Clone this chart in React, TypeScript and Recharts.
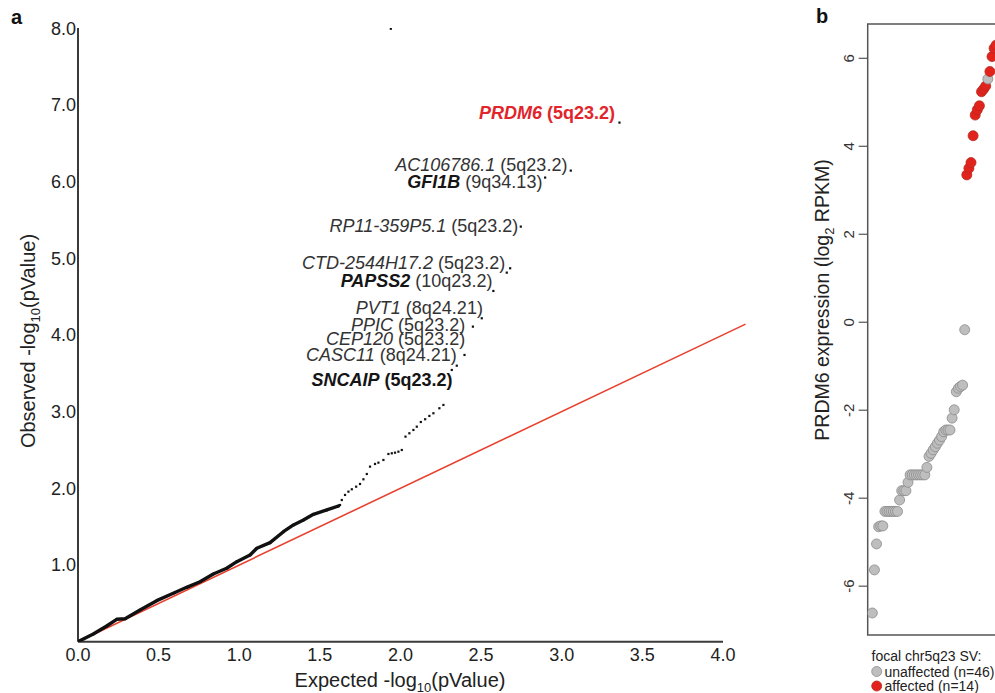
import React from 'react';
import { ScatterChart, Scatter, XAxis, YAxis, ReferenceLine, ReferenceArea } from 'recharts';

const FONT = '"Liberation Sans", Arial, Helvetica, sans-serif';

// panel a: QQ plot, dense body of the curve
const bodyExpected = [0, 0.095, 0.178, 0.24, 0.292, 0.385, 0.488, 0.591, 0.674, 0.757, 0.839, 0.922, 0.985, 1.067, 1.109, 1.191, 1.274, 1.336, 1.398, 1.46, 1.543, 1.615];
const bodyObserved = [0, 0.1, 0.205, 0.292, 0.3, 0.413, 0.535, 0.631, 0.709, 0.782, 0.883, 0.957, 1.043, 1.13, 1.218, 1.291, 1.434, 1.522, 1.587, 1.661, 1.717, 1.769];

// panel a: sparse tail points
const tailExpected = [1.625, 1.636, 1.656, 1.677, 1.698, 1.725, 1.749, 1.77, 1.791, 1.811, 1.842, 1.863, 1.894, 1.925, 1.946, 1.966, 1.987, 2.008, 2.031, 2.055, 2.08, 2.101, 2.126, 2.153, 2.179, 2.204, 2.241, 2.266, 2.318, 2.349, 2.397, 2.449, 2.504, 2.576, 2.659, 2.68, 2.746, 2.897, 3.056, 3.358, 1.94];
const tailObserved = [1.782, 1.847, 1.913, 1.956, 1.987, 2.021, 2.056, 2.117, 2.186, 2.282, 2.317, 2.334, 2.369, 2.447, 2.456, 2.464, 2.477, 2.499, 2.673, 2.717, 2.76, 2.803, 2.864, 2.9, 2.943, 2.978, 3.043, 3.086, 3.542, 3.598, 3.738, 4.107, 4.216, 4.572, 4.811, 4.868, 5.411, 6.05, 6.141, 6.767, 7.99];

// gene annotations (right end of text, in plot units)
const geneNames = ['PRDM6', 'AC106786.1', 'GFI1B', 'RP11-359P5.1', 'CTD-2544H17.2', 'PAPSS2', 'PVT1', 'PPIC', 'CEP120', 'CASC11', 'SNCAIP'];
const geneBands = ['5q23.2', '5q23.2', '9q34.13', '5q23.2', '5q23.2', '10q23.2', '8q24.21', '5q23.2', '5q23.2', '8q24.21', '5q23.2'];
const geneLabelX = [3.331, 3.035, 2.88, 2.731, 2.649, 2.57, 2.511, 2.401, 2.401, 2.349, 2.322];
const geneLabelY = [6.897, 6.215, 5.997, 5.424, 4.941, 4.703, 4.355, 4.129, 3.956, 3.738, 3.412];
const boldGenes = ['PRDM6', 'GFI1B', 'PAPSS2', 'SNCAIP'];
const boldBands = ['PRDM6', 'SNCAIP'];

const xTicksA = [0, 0.5, 1, 1.5, 2, 2.5, 3, 3.5, 4];
const yTicksA = [1, 2, 3, 4, 5, 6, 7, 8];

// panel b: PRDM6 expression per sample
const unaffectedExpr = [-6.61, -5.63, -5.04, -4.65, -4.63, -4.63, -4.3, -4.3, -4.3, -4.3, -4.3, -4.3, -4.3, -4.04, -3.83, -3.83, -3.83, -3.64, -3.47, -3.47, -3.47, -3.47, -3.47, -3.47, -3.47, -3.47, -3.3, -3.05, -2.98, -2.9, -2.83, -2.75, -2.68, -2.6, -2.49, -2.45, -2.45, -2.45, -2.18, -1.99, -1.58, -1.5, -1.46, -1.43, -0.17, 5.53];
const affectedExpr = [3.35, 3.5, 3.63, 4.24, 4.71, 4.83, 4.92, 5.24, 5.3, 5.37, 5.7, 6.04, 6.23, 6.3];
const yTicksB = [-6, -4, -2, 0, 2, 4, 6];

const bodyData = bodyExpected.map((x, i) => ({ x, y: bodyObserved[i] }));
const tailData = tailExpected.map((x, i) => ({ x, y: tailObserved[i] }));
const labelData = geneNames.map((gene, i) => ({ x: geneLabelX[i], y: geneLabelY[i], gene, band: geneBands[i] }));

const samples = [
  ...unaffectedExpr.map((expr) => ({ expr, affected: false })),
  ...affectedExpr.map((expr) => ({ expr, affected: true })),
]
  .sort((a, b) => a.expr - b.expr)
  .map((s, i) => ({ ...s, rank: i + 1 }));

const XTickA = (props: any) => {
  const { x, y, payload } = props;
  return (
    <text x={x} y={y + 19} textAnchor="middle" fontSize={18} fontFamily={FONT} fill="#222">
      {Number(payload.value).toFixed(1)}
    </text>
  );
};

const YTickA = (props: any) => {
  const { x, y, payload } = props;
  return (
    <text x={x - 2} y={y + 6.5} textAnchor="end" fontSize={18} fontFamily={FONT} fill="#222">
      {Number(payload.value).toFixed(1)}
    </text>
  );
};

const YTickB = (props: any) => {
  const { x, y, payload } = props;
  const tx = x - 5;
  return (
    <text x={tx} y={y} transform={`rotate(-90 ${tx} ${y})`} textAnchor="middle" fontSize={15} fontFamily={FONT} fill="#333">
      {payload.value}
    </text>
  );
};

const GeneLabel = (props: any) => {
  const { cx, cy } = props;
  const p = props.payload || props;
  const red = p.gene === 'PRDM6';
  const nameBold = boldGenes.includes(p.gene);
  const bandBold = boldBands.includes(p.gene);
  return (
    <text x={cx} y={cy + 6.5} textAnchor="end" fontSize={18} fontFamily={FONT} fill={red ? '#e1252b' : '#333'}>
      <tspan fontStyle="italic" fontWeight={nameBold ? 700 : 400} fill={red ? '#e1252b' : nameBold ? '#151515' : '#333'}>
        {p.gene}
      </tspan>
      <tspan fontWeight={bandBold ? 700 : 400} fill={red ? '#e1252b' : bandBold ? '#151515' : '#333'}>
        {'\u00a0(' + p.band + ')'}
      </tspan>
    </text>
  );
};

const TailDot = (props: any) => (
  <rect x={props.cx - 1.1} y={props.cy - 1.1} width={2.2} height={2.2} fill="#111" />
);

const SampleDot = (props: any) => {
  const p = props.payload || props;
  return (
    <circle
      cx={props.cx}
      cy={props.cy}
      r={5}
      fill={p.affected ? '#e2231c' : '#bebebe'}
      stroke={p.affected ? '#b52a22' : '#8c8c8c'}
      strokeWidth={0.8}
    />
  );
};

function QQPanel() {
  return (
    <ScatterChart width={760} height={693} margin={{ top: 28, right: 37, bottom: 11.3, left: 18 }}>
      <XAxis
        type="number"
        dataKey="x"
        domain={[0, 4]}
        ticks={xTicksA}
        interval={0}
        allowDataOverflow
        height={40}
        tickSize={0}
        tickMargin={0}
        tickLine={false}
        axisLine={{ stroke: '#3a3a3a', strokeWidth: 2 }}
        tick={<XTickA />}
      />
      <YAxis
        type="number"
        dataKey="y"
        domain={[0, 8]}
        ticks={yTicksA}
        interval={0}
        allowDataOverflow
        width={60}
        tickSize={0}
        tickMargin={0}
        tickLine={false}
        axisLine={{ stroke: '#3a3a3a', strokeWidth: 2 }}
        tick={<YTickA />}
      />
      <ReferenceLine
        segment={[{ x: 0, y: 0 }, { x: 4.14, y: 4.14 }]}
        ifOverflow="visible"
        stroke="#e8412f"
        strokeWidth={1.6}
      />
      <Scatter
        data={bodyData}
        isAnimationActive={false}
        line={{ stroke: '#111', strokeWidth: 3.4, strokeLinejoin: 'round', strokeLinecap: 'round' }}
        lineType="joint"
        shape={(p: any) => <circle cx={p.cx} cy={p.cy} r={1.5} fill="#111" />}
      />
      <Scatter data={tailData} isAnimationActive={false} shape={<TailDot />} />
      <Scatter data={labelData} isAnimationActive={false} shape={<GeneLabel />} />
    </ScatterChart>
  );
}

function ExpressionPanel() {
  return (
    <ScatterChart width={220} height={693} margin={{ top: 24, right: 13.3, bottom: 58, left: 27.7 }}>
      <XAxis type="number" dataKey="rank" domain={[-1.2, 65]} allowDataOverflow hide />
      <YAxis
        type="number"
        dataKey="expr"
        domain={[-7.11, 6.78]}
        ticks={yTicksB}
        interval={0}
        allowDataOverflow
        width={40}
        tickSize={9}
        tickMargin={0}
        axisLine={false}
        tickLine={{ stroke: '#555', strokeWidth: 1.2 }}
        tick={<YTickB />}
      />
      <ReferenceArea
        x1={-1.2}
        x2={65}
        y1={-7.11}
        y2={6.78}
        fill="none"
        fillOpacity={0}
        stroke="#555"
        strokeWidth={1.5}
        ifOverflow="visible"
      />
      <Scatter data={samples} isAnimationActive={false} shape={<SampleDot />} />
    </ScatterChart>
  );
}

export default function App() {
  return (
    <div style={{ position: 'absolute', left: 0, top: 0, width: 995, height: 693, overflow: 'hidden', background: '#fff' }}>
      <div style={{ position: 'absolute', left: 0, top: 0 }}>
        <QQPanel />
      </div>
      <div style={{ position: 'absolute', left: 800, top: 0 }}>
        <ExpressionPanel />
      </div>
      <svg width={995} height={693} style={{ position: 'absolute', left: 0, top: 0, pointerEvents: 'none' }} fontFamily={FONT}>
        <text x={11} y={23.5} fontSize={20} fontWeight={700} fill="#111">a</text>
        <text x={816} y={23} fontSize={20} fontWeight={700} fill="#111">b</text>

        <text x={400} y={686.5} textAnchor="middle" fontSize={20} fill="#222">
          Expected -log
          <tspan fontSize={13} dy={5}>10</tspan>
          <tspan dy={-5}>(pValue)</tspan>
        </text>
        <text x={35} y={341} transform="rotate(-90 35 341)" textAnchor="middle" fontSize={20} fill="#222">
          Observed -log
          <tspan fontSize={13} dy={5}>10</tspan>
          <tspan dy={-5}>(pValue)</tspan>
        </text>

        <text x={828.5} y={300} transform="rotate(-90 828.5 300)" textAnchor="middle" fontSize={19.5} fill="#222">
          PRDM6 expression (log
          <tspan fontSize={13} dy={5}>2</tspan>
          <tspan dy={-5}>{'\u00a0RPKM)'}</tspan>
        </text>

        <text x={871.5} y={661} fontSize={14} fill="#222">focal chr5q23 SV:</text>
        <circle cx={876.7} cy={671.5} r={5} fill="#bebebe" stroke="#8c8c8c" strokeWidth={0.8} />
        <text x={884.5} y={676.5} fontSize={14} fill="#222">unaffected (n=46)</text>
        <circle cx={876.7} cy={686} r={5} fill="#e2231c" stroke="#b52a22" strokeWidth={0.8} />
        <text x={884.5} y={691} fontSize={14} fill="#222">affected (n=14)</text>
      </svg>
    </div>
  );
}
